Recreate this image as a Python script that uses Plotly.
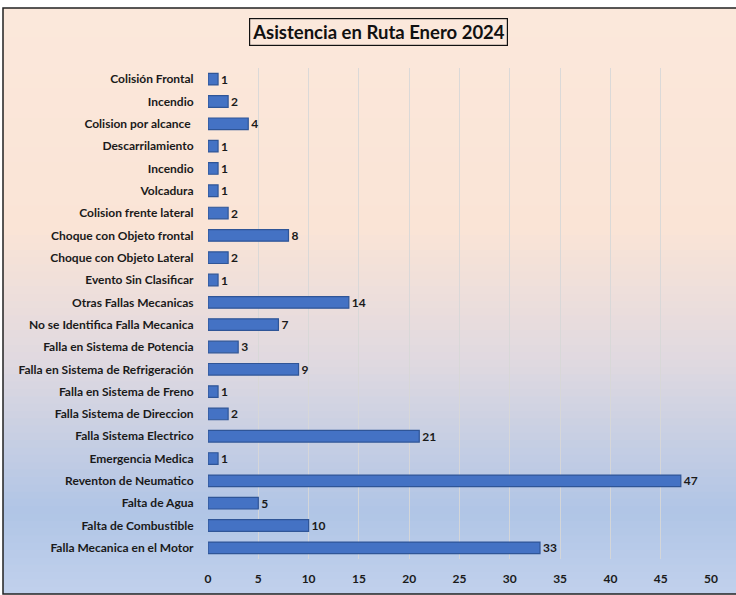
import plotly.graph_objects as go

# Categories top to bottom, as shown in the chart
categories = [
    "Colisión Frontal",
    "Incendio",
    "Colision por alcance ",
    "Descarrilamiento",
    "Incendio",
    "Volcadura",
    "Colision frente lateral",
    "Choque con Objeto frontal",
    "Choque con Objeto Lateral",
    "Evento Sin Clasificar",
    "Otras Fallas Mecanicas",
    "No se Identifica Falla Mecanica",
    "Falla en Sistema de Potencia",
    "Falla en Sistema de Refrigeración",
    "Falla en Sistema de Freno",
    "Falla Sistema de Direccion",
    "Falla Sistema Electrico",
    "Emergencia Medica",
    "Reventon de Neumatico",
    "Falta de Agua",
    "Falta de Combustible",
    "Falla Mecanica en el Motor",
]
counts = [1, 2, 4, 1, 1, 1, 2, 8, 2, 1, 14, 7, 3, 9, 1, 2, 21, 1, 47, 5, 10, 33]
x_ticks = [0, 5, 10, 15, 20, 25, 30, 35, 40, 45, 50]

W, H = 736, 595
L, R, T, B = 208, 25, 68, 36
PW, PH = W - L - R, H - T - B


def px_x(v):
    return (v - L) / PW


def px_y(v):
    return (H - B - v) / PH


# background gradient (peach -> blue), drawn as thin bands
stops = [
    (0.00, (251, 232, 219)),
    (0.38, (250, 228, 214)),
    (0.60, (224, 217, 224)),
    (0.86, (176, 197, 230)),
    (1.00, (193, 209, 236)),
]


def grad_color(f):
    for (f0, c0), (f1, c1) in zip(stops[:-1], stops[1:]):
        if f0 <= f <= f1:
            t = (f - f0) / (f1 - f0)
            return "rgb(%d,%d,%d)" % tuple(round(a + (b - a) * t) for a, b in zip(c0, c1))
    return "rgb(%d,%d,%d)" % stops[-1][1]


frame_top, frame_bot, frame_l, frame_r = 8, 594, 3, 736
n_bands = 80
shapes = []
band_h = (frame_bot - frame_top) / n_bands
for i in range(n_bands):
    y0 = frame_top + i * band_h
    y1 = y0 + band_h + 0.8
    shapes.append(dict(
        type="rect", xref="paper", yref="paper", layer="below",
        x0=px_x(frame_l), x1=px_x(frame_r + 2),
        y0=px_y(min(y1, frame_bot)), y1=px_y(y0),
        fillcolor=grad_color((i + 0.5) / n_bands), line_width=0,
    ))
shapes.append(dict(
    type="rect", xref="paper", yref="paper", layer="above",
    x0=px_x(frame_l), x1=px_x(frame_r + 2),
    y0=px_y(frame_bot), y1=px_y(frame_top),
    fillcolor="rgba(0,0,0,0)", line=dict(color="#222222", width=1.5),
))

positions = list(range(len(categories)))

fig = go.Figure(go.Bar(
    x=counts,
    y=positions,
    orientation="h",
    marker=dict(color="#4472c4", line=dict(color="#2f5597", width=1.2)),
    text=[f"<b>{v}</b>" for v in counts],
    textposition="outside",
    constraintext="none",
    textfont=dict(size=12, color="#1a1a1a"),
    cliponaxis=False,
))

font = "Lato, 'Open Sans', sans-serif"
fig.update_layout(
    width=W, height=H,
    margin=dict(l=L, r=R, t=T, b=B, autoexpand=False),
    paper_bgcolor="white",
    plot_bgcolor="rgba(0,0,0,0)",
    bargap=0.48,
    showlegend=False,
    font=dict(family=font, color="#1a1a1a"),
    shapes=shapes,
    xaxis=dict(
        range=[0, 50],
        tickvals=x_ticks,
        ticktext=[f"<b>{v}</b>" for v in x_ticks],
        tickfont=dict(size=12),
        showgrid=True, gridcolor="rgba(215,215,215,0.9)", gridwidth=1.2,
        zeroline=False, showline=False,
        ticks="outside", ticklen=9, tickcolor="rgba(0,0,0,0)",
    ),
    yaxis=dict(
        range=[len(categories) - 0.5, -0.5],
        tickvals=positions,
        ticktext=[f"<b>{c}</b>" for c in categories],
        tickfont=dict(size=12),
        showgrid=False, zeroline=False, showline=False,
        ticks="outside", ticklen=11, tickcolor="rgba(0,0,0,0)",
    ),
    annotations=[dict(
        text="<b>Asistencia en Ruta Enero 2024</b>",
        xref="paper", yref="paper",
        x=px_x(378), y=px_y(32),
        xanchor="center", yanchor="middle",
        showarrow=False,
        font=dict(size=18.5, color="#111111", family=font),
        bordercolor="#111111", borderwidth=1.2, borderpad=2,
    )],
)

# the page's default body margin would shift the figure by 8px
fig.write_html(
    "out.html",
    config={"displayModeBar": False},
    post_script="document.body.style.margin='0px';",
)
